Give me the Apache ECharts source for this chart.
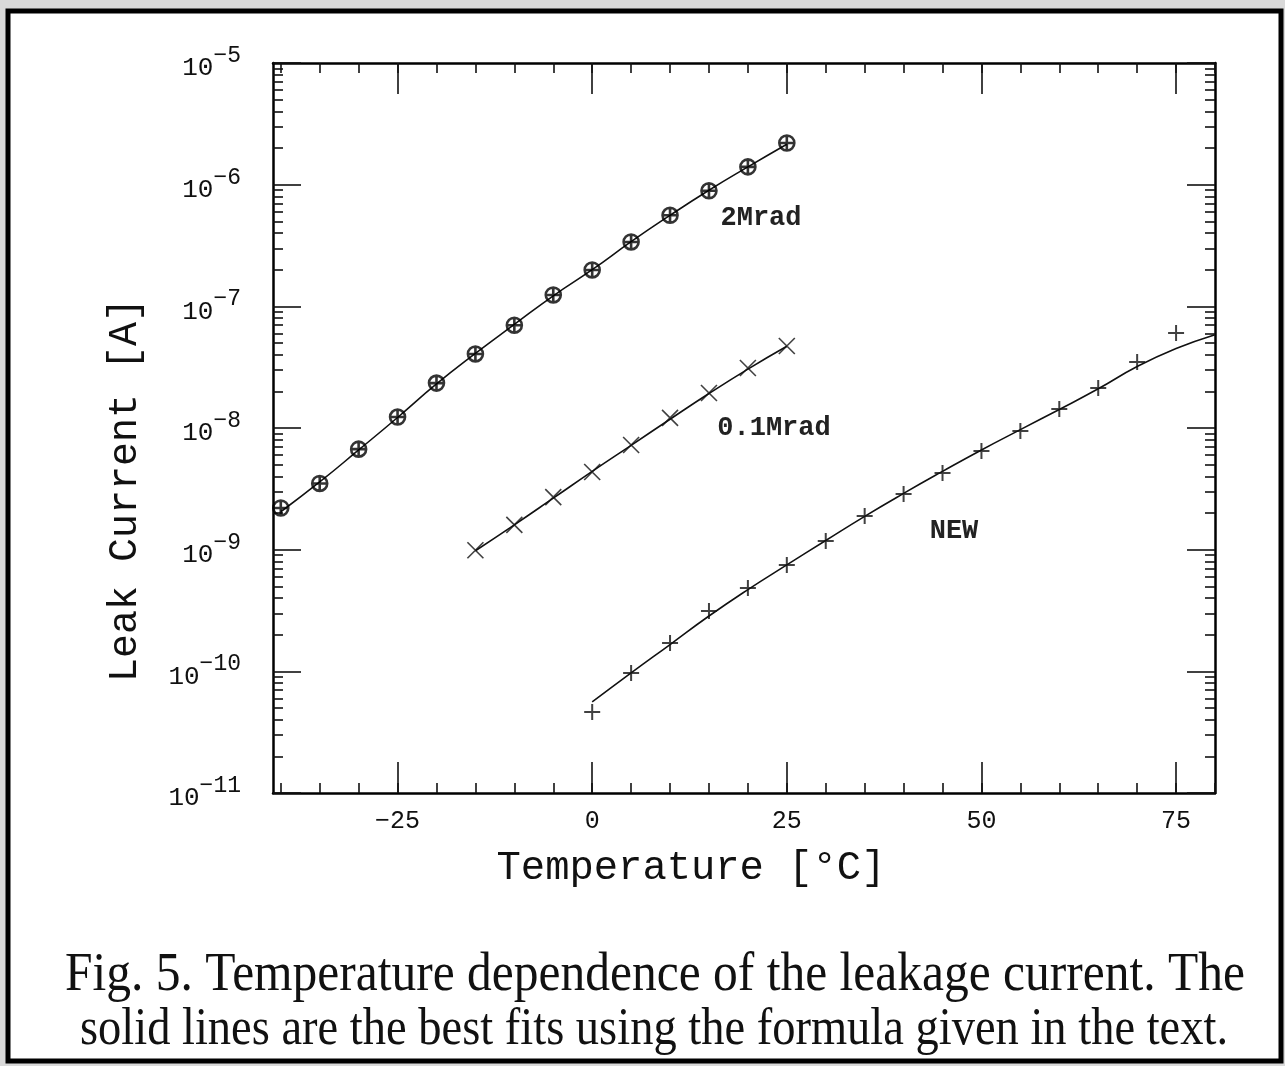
<!DOCTYPE html>
<html><head><meta charset="utf-8">
<script src="https://cdn.jsdelivr.net/npm/echarts@6/dist/echarts.min.js"></script>
<style>html,body{margin:0;padding:0;background:#d9d9d9}#c{width:1285px;height:1066px}</style>
</head><body><div id="c"></div>
<script>
// ---- data ----
const temps2M = [-40,-35,-30,-25,-20,-15,-10,-5,0,5,10,15,20,25];
const leak2M  = [2.2e-9,3.5e-9,6.7e-9,1.23e-8,2.34e-8,4.06e-8,7.0e-8,1.24e-7,1.99e-7,3.38e-7,5.6e-7,8.9e-7,1.4e-6,2.2e-6];
const fit2M   = [2.05e-9,3.6e-9,6.6e-9,1.22e-8,2.3e-8,4.1e-8,7.1e-8,1.22e-7,2.0e-7,3.4e-7,5.6e-7,9.0e-7,1.4e-6,2.15e-6];

const temps01 = [-15,-10,-5,0,5,10,15,20,25];
const leak01  = [9.9e-10,1.6e-9,2.7e-9,4.35e-9,7.25e-9,1.21e-8,1.94e-8,3.11e-8,4.72e-8];
const fit01   = [9.8e-10,1.6e-9,2.65e-9,4.4e-9,7.2e-9,1.18e-8,1.92e-8,3.05e-8,4.7e-8];

const tempsNew = [0,5,10,15,20,25,30,35,40,45,50,55,60,65,70,75];
const leakNew  = [4.63e-11,9.7e-11,1.71e-10,3.13e-10,4.84e-10,7.48e-10,1.18e-9,1.89e-9,2.87e-9,4.27e-9,6.47e-9,9.45e-9,1.43e-8,2.13e-8,3.49e-8,6.04e-8];
const fitTempsNew = [0,5,10,15,20,25,30,35,40,45,50,55,60,65,70,75,80];
const fitNew   = [5.6e-11,9.7e-11,1.66e-10,2.85e-10,4.7e-10,7.5e-10,1.19e-9,1.88e-9,2.9e-9,4.4e-9,6.6e-9,9.7e-9,1.42e-8,2.1e-8,3.2e-8,4.5e-8,5.85e-8];

const xMajorTicks = [-25,0,25,50,75];
const xMinorTicks = [-40,-35,-30,-25,-20,-15,-10,-5,0,5,10,15,20,25,30,35,40,45,50,55,60,65,70,75,80];
const yDecadeExponents = [-11,-10,-9,-8,-7,-6,-5];
const seriesLabels = ['2Mrad','0.1Mrad','NEW'];
const xTitle = 'Temperature [°C]';
const yTitle = 'Leak Current [A]';
const captionLines = ['Fig. 5. Temperature dependence of the leakage current. The',
                      'solid lines are the best fits using the formula given in the text.'];

// ---- build ----
const zip = (xs, ys) => xs.map((x, i) => [x, ys[i]]);
const MONO = '"Liberation Mono", "DejaVu Sans Mono", monospace';
const SERIF = '"Liberation Serif", "DejaVu Serif", serif';
const yMinor = [];
for (let n = -11; n < -5; n++) for (let k = 2; k <= 9; k++) yMinor.push(n + Math.log10(k));

const XMIN = -41, XMAX = 80;
const lineW = 2.5;

function xAx(pos, ticks, len, showLine, labels) {
  return {
    type: 'value', position: pos, min: XMIN, max: XMAX,
    axisLine: {show: showLine, onZero: false, lineStyle: {color: '#000', width: lineW}},
    axisTick: {show: true, inside: true, length: len, customValues: ticks, lineStyle: {color: '#111', width: 1.6}},
    axisLabel: labels ? {show: true, customValues: xMajorTicks, margin: 16, color: '#111', fontFamily: MONO, fontSize: 25,
                          formatter: v => String(v).replace('-', '−')} : {show: false},
    splitLine: {show: false}
  };
}
function yAx(pos, ticks, len, showLine, labels) {
  return {
    type: 'value', position: pos, min: -11, max: -5,
    axisLine: {show: showLine, onZero: false, lineStyle: {color: '#000', width: lineW}},
    axisTick: {show: true, inside: true, length: len, customValues: ticks, lineStyle: {color: '#111', width: 1.6}},
    axisLabel: labels ? {
      show: true, customValues: yDecadeExponents, margin: 32, color: '#111',
      formatter: v => '{b|10}{e|−' + Math.abs(Math.round(v)) + '}',
      rich: {
        b: {fontFamily: MONO, fontSize: 26, color: '#111', verticalAlign: 'bottom'},
        e: {fontFamily: MONO, fontSize: 23, color: '#111', verticalAlign: 'bottom', padding: [0, 0, 14, 0]}
      }
    } : {show: false},
    splitLine: {show: false}
  };
}

const chart = echarts.init(document.getElementById('c'), null, {renderer: 'canvas'});

const crossCircle = 'path://M0,-10A10,10 0 1,1 0,10A10,10 0 1,1 0,-10ZM-10,0L10,0M0,-10L0,10';
const xMark = 'path://M-10,-10L10,10M-10,10L10,-10';
const plusMark = 'path://M-10,0L10,0M0,-10L0,10';

const labelStyle = {fontFamily: MONO, fontSize: 27, fontWeight: 'bold', fill: '#222', textAlign: 'center', textVerticalAlign: 'middle'};

const option = {
  backgroundColor: '#d9d9d9',
  animation: false,
  grid: {left: 273, top: 63, width: 942, height: 730, containLabel: false},
  xAxis: [
    xAx('bottom', xMajorTicks, 31, true, true),
    xAx('bottom', xMinorTicks, 10, false, false),
    xAx('top', xMajorTicks, 31, true, false),
    xAx('top', xMinorTicks, 10, false, false)
  ],
  yAxis: [
    {type: 'log', min: 1e-11, max: 1e-5, show: false, logBase: 10},
    yAx('left', yDecadeExponents, 28, true, true),
    yAx('left', yMinor, 10, false, false),
    yAx('right', yDecadeExponents, 28, true, false),
    yAx('right', yMinor, 10, false, false)
  ],
  series: [
    {type: 'line', name: 'fit 2Mrad', data: zip(temps2M, fit2M), smooth: true, showSymbol: false,
     lineStyle: {color: '#111', width: 1.6}, z: 3},
    {type: 'line', name: 'fit 0.1Mrad', data: zip(temps01, fit01), smooth: true, showSymbol: false,
     lineStyle: {color: '#111', width: 1.6}, z: 3},
    {type: 'line', name: 'fit NEW', data: zip(fitTempsNew, fitNew), smooth: true, showSymbol: false,
     lineStyle: {color: '#111', width: 1.6}, z: 3},
    {type: 'scatter', name: seriesLabels[0], data: zip(temps2M, leak2M), symbol: crossCircle, symbolSize: 15,
     itemStyle: {color: 'rgba(0,0,0,0)', borderColor: '#000', borderWidth: 2.6}, z: 4},
    {type: 'scatter', name: seriesLabels[1], data: zip(temps01, leak01), symbol: xMark, symbolSize: 16,
     itemStyle: {color: 'rgba(0,0,0,0)', borderColor: '#111', borderWidth: 1.6}, z: 4},
    {type: 'scatter', name: seriesLabels[2], data: zip(tempsNew, leakNew), symbol: plusMark, symbolSize: 16,
     itemStyle: {color: 'rgba(0,0,0,0)', borderColor: '#111', borderWidth: 2}, z: 4}
  ],
  graphic: [
    {type: 'rect', z: -100, shape: {x: 8, y: 11, width: 1273, height: 1050},
     style: {fill: '#fff', stroke: '#000', lineWidth: 5}},
    {type: 'text', x: 761, y: 218, z: 10, style: Object.assign({text: seriesLabels[0]}, labelStyle)},
    {type: 'text', x: 774, y: 428, z: 10, style: Object.assign({text: seriesLabels[1]}, labelStyle)},
    {type: 'text', x: 954, y: 531, z: 10, style: Object.assign({text: seriesLabels[2]}, labelStyle)},
    {type: 'text', x: 691, y: 868, z: 10, style: {text: xTitle, fontFamily: MONO, fontSize: 40.5, fill: '#111', textAlign: 'center', textVerticalAlign: 'middle'}},
    {type: 'text', x: 125, y: 490, z: 10, rotation: Math.PI / 2, style: {text: yTitle, fontFamily: MONO, fontSize: 40, fill: '#111', textAlign: 'center', textVerticalAlign: 'middle'}},
    {type: 'text', x: 655, y: 975, z: 10, scaleY: 1.12, style: {text: captionLines[0], fontFamily: SERIF, fontSize: 49.5, fill: '#111', textAlign: 'center', textVerticalAlign: 'middle'}},
    {type: 'text', x: 654, y: 1030, z: 10, scaleY: 1.15, style: {text: captionLines[1], fontFamily: SERIF, fontSize: 46.5, fill: '#111', textAlign: 'center', textVerticalAlign: 'middle'}}
  ]
};
chart.setOption(option);
</script>
</body></html>
